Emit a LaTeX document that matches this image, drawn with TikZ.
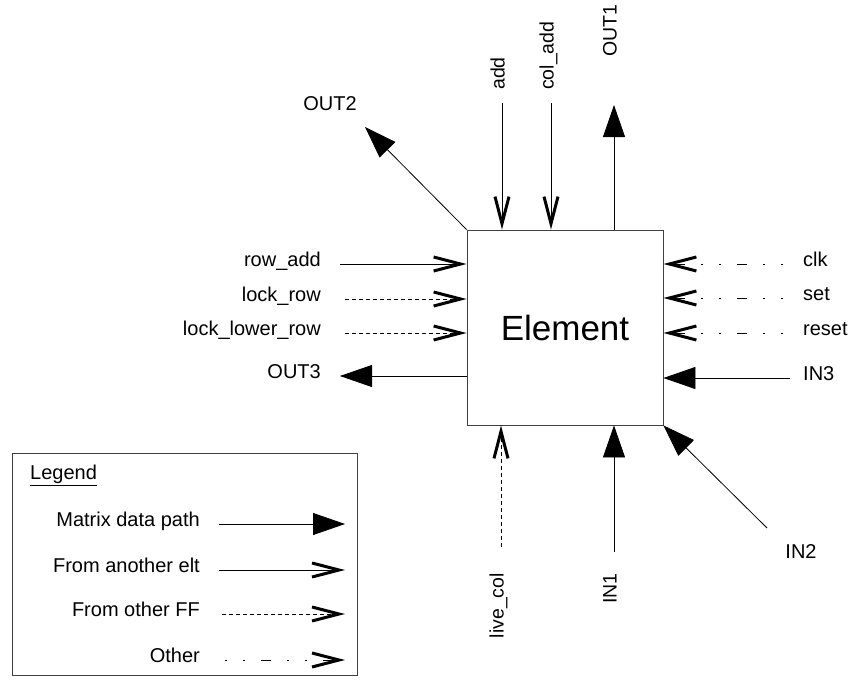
\documentclass[tikz,border=0pt]{standalone}
\usepackage{fontspec}
\setmainfont{Liberation Sans}
\usetikzlibrary{arrows.meta,positioning,calc}
\tikzset{
  eltbox/.style   ={rectangle, draw=black!75, line width=0.8pt, inner sep=0pt,
                    minimum width=196pt, minimum height=195pt,
                    font=\fontsize{35}{42}\selectfont},
  legbox/.style   ={rectangle, draw=black!75, line width=0.8pt, inner sep=0pt,
                    minimum width=345pt, minimum height=222pt},
  sig/.style      ={inner sep=0pt, font=\fontsize{20}{24}\selectfont},
  vsig/.style     ={sig, rotate=90, font=\fontsize{19.5}{24}\selectfont},
  datapath/.style ={-{Triangle[length=32pt,width=22pt]}, line width=0.8pt},
  eltpath/.style  ={-{Straight Barb[length=27pt,width=14pt,line width=3pt]},
                    line width=0.8pt},
  ffpath/.style   ={eltpath, dash pattern=on 4pt off 3pt},
  otherpath/.style={eltpath,
                    dash pattern=on 2pt off 16pt on 2pt off 16pt on 10pt off 16pt}
}

\begin{document}
\begin{tikzpicture}[x=1pt, y=-1pt]
  \useasboundingbox (0,0) rectangle (862,685);

  % ---------------- Element ----------------
  \node[eltbox] (elt) at (565,327.5) {Element};

  % ---------------- Top ----------------
  \coordinate (addS)    at (502,103);
  \coordinate (coladdS) at (551,103);
  \coordinate (outoneT) at (614,105);
  \coordinate (outtwoT) at (365,127);
  \node[vsig, anchor=mid west] (add)    at (502,90) {add};
  \node[vsig, anchor=mid west] (coladd) at (551,90) {col\_add};
  \node[vsig, anchor=mid west] (outone) at (614,57) {OUT1};
  \node[sig] (outtwo) at (330,104) {OUT2};
  \draw[eltpath]  (addS) -- (addS |- elt.north);
  \draw[eltpath]  (coladdS) -- (coladdS |- elt.north);
  \draw[datapath] (outoneT |- elt.north) -- (outoneT);
  \draw[datapath] (elt.north west) -- (outtwoT);

  % ---------------- Left ----------------
  \coordinate (rowaddS)  at (340,264);
  \coordinate (lockrowS) at (345,299);
  \coordinate (locklowS) at (345,333);
  \coordinate (outthrT)  at (340,376);
  \node[sig, anchor=mid east] (rowadd)  at (321,264) {row\_add};
  \node[sig, anchor=mid east] (lockrow) at (321,299) {lock\_row};
  \node[sig, anchor=mid east] (locklow) at (321,333) {lock\_lower\_row};
  \node[sig, anchor=mid east] (outthr)  at (321,376) {OUT3};
  \draw[eltpath]  (rowaddS) -- (rowaddS -| elt.west);
  \draw[ffpath]   (lockrowS) -- (lockrowS -| elt.west);
  \draw[ffpath]   (locklowS) -- (locklowS -| elt.west);
  \draw[datapath] (outthrT -| elt.west) -- (outthrT);

  % ---------------- Right ----------------
  \coordinate (clkS)   at (783,264);
  \coordinate (setS)   at (783,298);
  \coordinate (resetS) at (783,333);
  \coordinate (inthrS) at (790,378);
  \node[sig, anchor=mid west] (clk)   at (803,264) {clk};
  \node[sig, anchor=mid west] (set)   at (803,298) {set};
  \node[sig, anchor=mid west] (reset) at (803,333) {reset};
  \node[sig, anchor=mid west] (inthr) at (803,378) {IN3};
  \draw[otherpath] (clkS) -- (clkS -| elt.east);
  \draw[otherpath] (setS) -- (setS -| elt.east);
  \draw[otherpath] (resetS) -- (resetS -| elt.east);
  \draw[datapath]  (inthrS) -- (inthrS -| elt.east);

  % ---------------- Bottom ----------------
  \coordinate (livecolS) at (501,547);
  \coordinate (inoneS)   at (614,552);
  \coordinate (intwoS)   at (767,528);
  \node[vsig, anchor=mid east] (livecol) at (501,573) {live\_col};
  \node[vsig, anchor=mid east] (inone)   at (614,573) {IN1};
  \node[sig] (intwo) at (801,552) {IN2};
  \draw[ffpath]   (livecolS) -- (livecolS |- elt.south);
  \draw[datapath] (inoneS) -- (inoneS |- elt.south);
  \draw[datapath] (intwoS) -- (elt.south east);

  % ---------------- Legend ----------------
  \node[legbox] (legend) at (184.5,564) {};
  \node[sig, anchor=mid west] (legtitle) at (30,477) {\underline{Legend}};
  \node[sig, anchor=mid east] (legdata)  at (200,524) {Matrix data path};
  \node[sig, anchor=mid east] (legelt)   at (200,570) {From another elt};
  \node[sig, anchor=mid east] (legff)    at (200,614) {From other FF};
  \node[sig, anchor=mid east] (legother) at (200,660) {Other};
  \coordinate (legdataE)  at (345,524);
  \coordinate (legeltE)   at (345,570);
  \coordinate (legffE)    at (345,614);
  \coordinate (legotherE) at (345,660);
  \draw[datapath]  ([xshift=19pt]legdata.mid east |- legdataE) -- (legdataE);
  \draw[eltpath]   ([xshift=19pt]legelt.mid east |- legeltE) -- (legeltE);
  \draw[ffpath]    ([xshift=22pt]legff.mid east |- legffE) -- (legffE);
  \draw[otherpath] ([xshift=25pt]legother.mid east |- legotherE) -- (legotherE);
\end{tikzpicture}
\end{document}
